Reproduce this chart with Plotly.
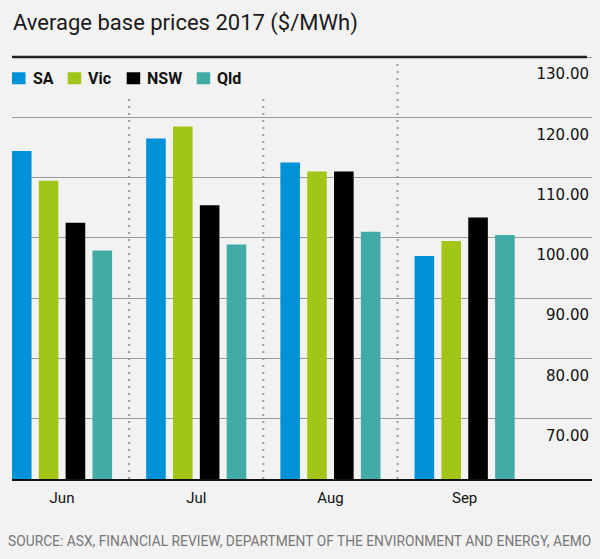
import plotly.graph_objects as go

# ---- data ----
months = ["Jun", "Jul", "Aug", "Sep"]
series_names = ["SA", "Vic", "NSW", "Qld"]
sa_vals = [114.4, 116.5, 112.5, 97.0]
vic_vals = [109.5, 118.5, 111.0, 99.5]
nsw_vals = [102.5, 105.4, 111.0, 103.4]
qld_vals = [97.9, 98.9, 101.0, 100.5]
y_ticks = [70, 80, 90, 100, 110, 120, 130]
y_tick_labels = ["%.2f" % v for v in y_ticks]

colors = ["#0092d9", "#a2c617", "#000000", "#43aba6"]
values = [sa_vals, vic_vals, nsw_vals, qld_vals]

W, H = 600, 559
L, R, T, B = 12, 8, 45.24, 79.7
PW, PH = W - L - R, H - T - B


def px(xp):
    return (xp - L) / PW


def py(yp):
    return (H - B - yp) / PH


fig = go.Figure()
for name, vals, col in zip(series_names, values, colors):
    fig.add_trace(go.Bar(x=months, y=vals, name=name, marker_color=col,
                         marker_line_width=0, showlegend=False))

fig.update_layout(
    width=W, height=H,
    margin=dict(l=L, r=R, t=T, b=B, pad=0),
    paper_bgcolor="#f2f2f2", plot_bgcolor="#f2f2f2",
    barmode="group", bargap=0.2, bargroupgap=0.27,
    font=dict(family="Roboto", color="#1a1a1a"),
    xaxis=dict(range=[-0.3726, 3.949], showgrid=False, zeroline=False,
               showline=True, linecolor="#111111", linewidth=2,
               ticks="", tickfont=dict(family="Roboto", size=15, color="#111111"),
               ticklabelstandoff=4),
    yaxis=dict(range=[60, 132], tickvals=y_ticks, ticktext=y_tick_labels,
               side="right", ticklabelposition="inside", ticks="",
               showgrid=True, gridcolor="#9a9a9a", gridwidth=1, zeroline=False,
               showline=False, ticklabelshift=17,
               tickfont=dict(family="DejaVu Sans", size=15, color="#111111")),
)

# top rule at 130
fig.add_shape(type="line", xref="paper", yref="y", x0=0, x1=px(587), y0=130, y1=130,
              line=dict(color="#222222", width=2.5))

# dotted dividers between months
divider_tops = [123.4, 123.4, 129.0]
for i, top in enumerate(divider_tops):
    fig.add_shape(type="line", xref="x", yref="y", x0=i + 0.5, x1=i + 0.5,
                  y0=60, y1=top, line=dict(color="#9a9a9a", width=2, dash="2px,5px"))

# legend (manual, from series names/colors)
sq_x = [12, 67.7, 126.7, 196.7]
for name, col, xs in zip(series_names, colors, sq_x):
    fig.add_shape(type="rect", xref="paper", yref="paper",
                  x0=px(xs), x1=px(xs + 13.5), y0=py(84.5), y1=py(72.5),
                  fillcolor=col, line_width=0)
    fig.add_annotation(text="<b>%s</b>" % name, xref="paper", yref="paper",
                       x=px(xs + 18.5), y=py(78.5), xanchor="left", yanchor="middle",
                       showarrow=False, font=dict(family="Roboto", size=16, color="#111111"))

fig.add_annotation(text="Average base prices 2017 ($/MWh)", xref="paper", yref="paper",
                   x=px(11), y=py(23), xanchor="left", yanchor="middle", showarrow=False,
                   font=dict(family="Roboto", size=22, color="#1a1a1a"))

fig.add_annotation(text="SOURCE: ASX, FINANCIAL REVIEW, DEPARTMENT OF THE ENVIRONMENT AND ENERGY, AEMO",
                   xref="paper", yref="paper", x=px(6), y=py(541.7), xanchor="left",
                   yanchor="middle", showarrow=False,
                   font=dict(family="Roboto", size=13.8, color="#777777"))

fig.write_html("out.html", config={"displayModeBar": False},
               post_script="document.body.style.margin='0';document.body.style.background='#f2f2f2';")
